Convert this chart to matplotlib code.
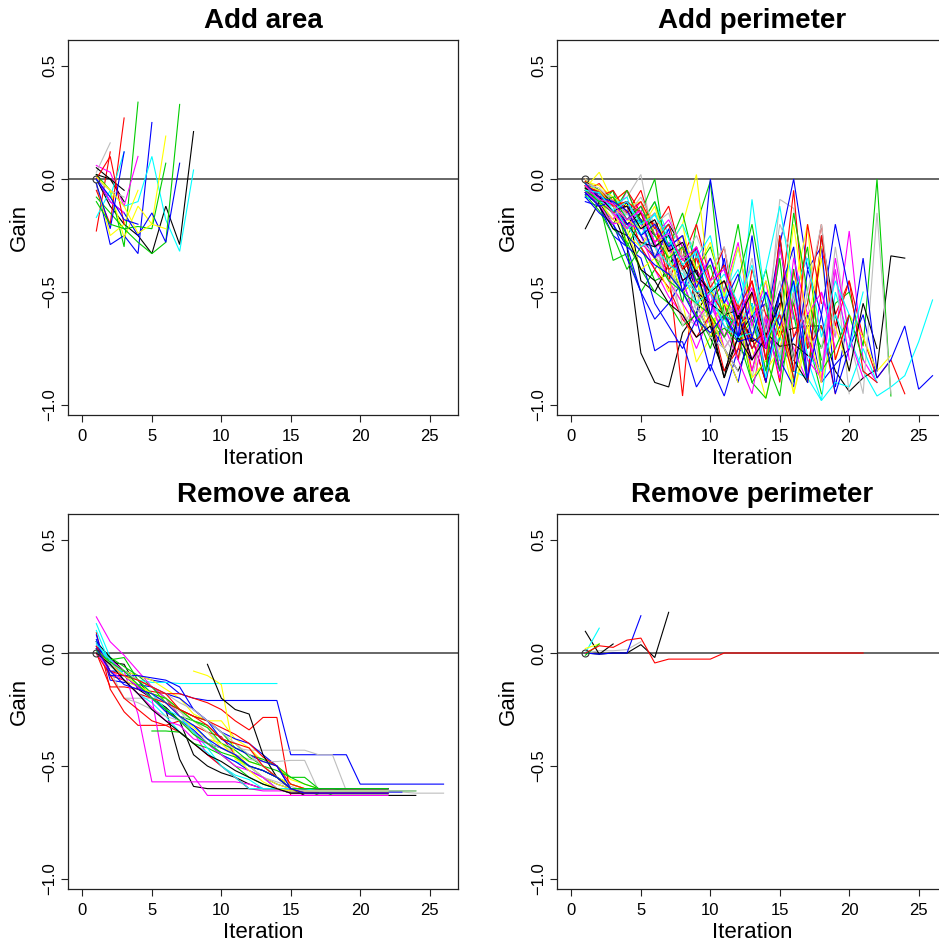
import numpy as np
import matplotlib
matplotlib.use("Agg")
import matplotlib.pyplot as plt

nan = np.nan

# R default palette
palette = ["black", "red", "#00CD00", "blue", "cyan", "magenta", "yellow", "#BEBEBE"]

panel_titles = ["Add area", "Add perimeter", "Remove area", "Remove perimeter"]
x_ticks = [0, 5, 10, 15, 20, 25]
y_ticks = [-1.0, -0.5, 0.0, 0.5]
y_tick_labels = ["\u22121.0", "\u22120.5", "0.0", "0.5"]

# ---- Add area: gain per iteration (iteration 1, 2, ...) ----
add_area_gain = [
    [0.00, -0.12, -0.20, -0.25, -0.33, -0.12, -0.29, 0.21],
    [-0.23, 0.12],
    [0.02, -0.05, -0.30, 0.34],
    [-0.02, -0.29, -0.25, -0.33, 0.25],
    [-0.17, -0.05, -0.12, -0.10, 0.10, -0.18, -0.32, 0.04],
    [0.06, 0.03, -0.12, 0.10],
    [0.00, -0.05, -0.26, -0.12, -0.20, 0.19],
    [0.03, 0.16],
    [0.02, 0.00, -0.10],
    [-0.05, -0.20, 0.27],
    [-0.08, -0.15, -0.22, -0.28, -0.33, -0.28, 0.33],
    [0.00, -0.10, -0.15, -0.25, -0.15, -0.28, 0.07],
    [0.00, -0.08, 0.12],
    [0.01, -0.10, -0.15],
    [-0.02, -0.25, -0.20, -0.05],
    [0.00, -0.05, -0.08],
    [0.05, 0.00, -0.05],
    [0.00, 0.10, -0.20],
    [-0.02, -0.22, 0.12],
    [-0.10, -0.20, -0.22, -0.21, -0.22, 0.07],
    [0.01, -0.05, -0.12, -0.24, -0.20, -0.22],
    [0.00, -0.08, -0.18, -0.20],
]
add_area_colors = ["black", "red", "#00CD00", "blue", "cyan", "magenta", "yellow",
                   "#BEBEBE", "black", "red", "#00CD00", "blue", "cyan", "magenta",
                   "yellow", "#BEBEBE", "black", "red", "blue", "#00CD00",
                   "yellow", "blue"]

# ---- Add perimeter ----
add_perimeter_gain = [
    [-0.02, -0.05, -0.15, -0.30, -0.77, -0.90, -0.92, -0.68, -0.59, -0.49, -0.60, -0.65, -0.70, -0.55, -0.68, -0.66, -0.65, -0.65, -0.85, -0.94, -0.88, -0.84, -0.34, -0.35],
    [0.00, -0.08, -0.12, -0.20, -0.28, -0.35, -0.40, -0.96, -0.32, -0.60, -0.70, -0.55, -0.85, -0.60, -0.90, -0.40, -0.75, -0.30, -0.60, -0.45, -0.70, -0.88, -0.80, -0.95],
    [-0.05, -0.10, -0.36, -0.33, -0.50, -0.40, -0.30, -0.55, -0.20, -0.01, -0.60, -0.80, -0.50, -0.70, -0.35, -0.90, -0.60, -0.75, -0.55, -0.50, -0.74, 0.00, -0.96],
    [-0.08, -0.10, -0.20, -0.35, -0.50, -0.76, -0.72, -0.72, -0.92, -0.82, -0.96, -0.75, -0.80, -0.65, -0.85, -0.70, -0.60, -0.90, -0.82, -0.75, -0.60, -0.88, -0.80, -0.65, -0.93, -0.87],
    [-0.03, -0.07, -0.15, -0.20, -0.25, -0.20, -0.35, -0.45, -0.50, -0.55, -0.62, -0.70, -0.09, -0.55, -0.75, -0.60, -0.80, -0.98, -0.50, -0.70, -0.85, -0.96, -0.92, -0.87, -0.72, -0.535],
    [-0.06, -0.10, -0.18, -0.10, -0.25, -0.40, -0.52, -0.60, -0.75, -0.60, -0.50, -0.70, -0.55, -0.85, -0.60, -0.75, -0.90, -0.50, -0.70, -0.23, -0.80, -0.90],
    [-0.04, 0.03, -0.10, -0.28, -0.15, -0.30, -0.45, -0.55, -0.81, -0.70, -0.50, -0.60, -0.75, -0.97, -0.68, -0.95, -0.70, -0.35, -0.80, -0.60, -0.70, -0.85, -0.78],
    [-0.01, -0.05, -0.12, -0.08, 0.02, -0.30, -0.45, -0.60, -0.65, -0.55, -0.70, -0.80, -0.65, -0.75, -0.09, -0.13, -0.55, -0.85, -0.30, -0.70, -0.95, -0.15, -0.95],
    [-0.22, -0.10, -0.20, -0.10, -0.45, -0.50, -0.38, -0.30, -0.50, -0.60, -0.75, -0.85, -0.70, -0.90, -0.25, -0.80, -0.65],
    [-0.05, -0.02, -0.10, -0.15, -0.05, -0.25, -0.30, -0.40, -0.35, -0.55, -0.45, -0.60, -0.70, -0.90, -0.58, -0.05, -0.75, -0.65, -0.95],
    [-0.03, -0.12, -0.05, -0.25, -0.15, 0.00, -0.40, -0.50, -0.45, -0.65, -0.55, -0.70, -0.90, -0.80, -0.96, -0.50, -0.70, -0.95],
    [-0.10, -0.12, -0.25, -0.30, -0.50, -0.62, -0.55, -0.45, -0.62, 0.00, -0.40, -0.60, -0.75, -0.65, -0.29, 0.00, -0.40, -0.30, -0.92, -0.60],
    [-0.02, -0.06, -0.08, -0.15, -0.20, -0.10, -0.25, -0.35, -0.45, -0.60, -0.50, -0.65, -0.55, -0.80, -0.70, -0.85, -0.88, -0.98, -0.90, -0.92, -0.75, -0.90],
    [-0.04, -0.10, -0.15, -0.20, -0.30, -0.28, -0.45, -0.55, -0.65, -0.50, -0.75, -0.65, -0.85, -0.60, -0.75, -0.55, -0.80, -0.88, -0.35, -0.70, -0.88],
    [0.00, -0.05, -0.10, -0.05, -0.20, -0.15, -0.30, -0.20, -0.50, -0.70, -0.60, -0.55, -0.68, -0.85, -0.75, -0.50, -0.20, -0.90, -0.65, -0.85],
    [-0.06, -0.08, -0.20, -0.15, -0.25, -0.30, -0.40, -0.50, -0.55, -0.45, -0.70, -0.60, -0.88, -0.62, -0.20, -0.35, -0.70, -0.75, -0.40, -0.95],
    [-0.01, -0.05, -0.12, -0.10, -0.18, -0.25, -0.20, -0.30, -0.55, -0.70, -0.85, -0.70, -0.60, -0.75, -0.50, -0.80, -0.90, -0.25, -0.60, -0.85, -0.55, -0.75],
    [-0.02, -0.10, -0.08, -0.22, -0.18, -0.20, -0.45, -0.30, -0.40, -0.50, -0.55, -0.80, -0.40, -0.60, -0.70, -0.55, -0.90, -0.25, -0.65, -0.45, -0.85, -0.90],
    [-0.07, -0.14, -0.25, -0.40, -0.30, -0.45, -0.42, -0.50, -0.60, -0.75, -0.55, -0.60, -0.90, -0.97, -0.70, -0.55, -0.30, -0.85, -0.75, -0.60, -0.80],
    [-0.03, -0.07, -0.15, -0.10, -0.25, -0.35, -0.28, -0.50, -0.40, -0.65, -0.75, -0.90, -0.60, -0.55, -0.80, -0.92, -0.40, -0.60, -0.95, -0.75, -0.35, -0.85],
    [-0.08, -0.10, -0.05, -0.18, -0.15, -0.22, -0.30, -0.25, -0.45, -0.55, -0.50, -0.40, -0.60, -0.50, -0.80, -0.45, -0.78, -0.85, -0.60, -0.75, -0.50],
    [-0.05, -0.12, -0.18, -0.05, -0.20, -0.35, -0.30, -0.25, -0.50, -0.55, -0.65, -0.80, -0.95, -0.62, -0.88, -0.50, -0.70, -0.90, -0.40, -0.80],
    [-0.02, -0.08, -0.15, -0.25, -0.30, -0.20, -0.35, -0.50, -0.45, -0.65, -0.55, -0.60, -0.88, -0.80, -0.50, -0.95, -0.65, -0.90],
    [-0.04, -0.10, -0.10, -0.20, -0.28, -0.33, -0.45, -0.40, -0.58, -0.62, -0.75, -0.65, -0.70, -0.55, -0.78, -0.50, -0.85],
    [-0.05, -0.10, -0.10, -0.20, -0.28, -0.30, -0.25, -0.38, -0.50, -0.55, -0.60, -0.58, -0.72, -0.68, -0.74, -0.73, -0.78],
    [-0.03, -0.10, -0.15, -0.12, -0.30, -0.40, -0.48, -0.62, -0.70, -0.60, -0.85, -0.75, -0.50, -0.80, -0.65, -0.88],
    [-0.06, -0.08, -0.22, -0.28, -0.40, -0.50, -0.55, -0.65, -0.60, -0.70, -0.66, -0.72, -0.62, -0.85, -0.30, -0.60, -0.90],
    [-0.08, -0.15, -0.20, -0.30, -0.35, -0.55, -0.65, -0.75, -0.62, -0.85, -0.60, -0.70, -0.55, -0.90, -0.50],
    [-0.02, -0.05, -0.10, -0.20, -0.30, -0.25, -0.20, -0.40, -0.50, -0.48, -0.60, -0.65, -0.55, -0.88, -0.60],
    [-0.05, -0.12, -0.20, -0.18, -0.10, -0.30, -0.28, -0.45, -0.62, -0.55, -0.70, -0.60, -0.80, -0.65],
    [-0.03, -0.10, -0.18, -0.22, -0.40, -0.35, -0.50, -0.30, -0.45, -0.60, -0.75, -0.90],
    [0.00, -0.06, -0.08, -0.15, -0.20, -0.10, -0.35, -0.65, -0.55, -0.70, -0.75, -0.85],
    [-0.06, -0.12, -0.22, -0.25, -0.40, -0.45, -0.55, -0.60, -0.70, -0.65, -0.88, -0.70, -0.80],
    [-0.04, -0.05, -0.10, -0.05, -0.15, -0.20, -0.40, -0.35, -0.45, -0.50, -0.60, -0.55, -0.75, -0.65],
    [-0.02, -0.10, -0.05, -0.30, -0.18, -0.35, -0.45, -0.50, -0.55, -0.60, -0.70, -0.58],
    [-0.07, -0.06, -0.12, -0.25, -0.32, -0.38, -0.42, -0.50, -0.62, -0.68, -0.60, -0.72, -0.70, -0.75],
    [-0.04, -0.08, -0.12, -0.22, -0.18, -0.30, -0.38, -0.42, -0.55, -0.50, -0.65, -0.70, -0.68],
    [-0.06, -0.10, -0.12, -0.20, -0.22, -0.15, -0.30, -0.45, -0.40, -0.55, -0.52, -0.62],
    [-0.01, -0.03, -0.08, -0.12, -0.10, -0.25, -0.30, -0.20, 0.02, -0.50, -0.55, -0.65, -0.60],
    [-0.05, -0.07, -0.16, -0.12, -0.25, -0.20, -0.32, -0.40, -0.52, -0.45, -0.60, -0.55, -0.65],
    [-0.03, -0.06, -0.10, -0.20, -0.15, -0.30, -0.25, -0.45, -0.40, -0.62, -0.88, -0.60, -0.80, -0.70, -0.50, -0.85],
    [-0.01, -0.08, -0.05, -0.15, -0.10, -0.22, -0.12, -0.35, -0.20, -0.45, -0.30, -0.65, -0.45, -0.80, -0.25, -0.70, -0.55, -0.20, -0.80, -0.60],
    [-0.04, -0.10, -0.15, -0.05, -0.20, -0.10, -0.30, -0.15, -0.40, -0.30, -0.50, -0.20, -0.60, -0.40, -0.70, -0.15, -0.50, -0.80],
    [-0.06, -0.12, -0.10, -0.20, -0.18, -0.35, -0.22, -0.50, -0.30, -0.60, -0.35, -0.70, -0.25, -0.75, -0.50, -0.30, -0.88, -0.60, -0.20, -0.50],
    [-0.02, -0.10, -0.12, -0.08, -0.25, -0.15, -0.30, -0.20, -0.35, -0.25, -0.55, -0.30, -0.60, -0.40, -0.12, -0.50, -0.35, -0.70, -0.45, -0.60],
    [-0.05, -0.08, -0.15, -0.22, -0.12, -0.25, -0.18, -0.30, -0.45, -0.35, -0.50, -0.28, -0.65, -0.45, -0.85, -0.35, -0.60, -0.50, -0.75],
    [-0.03, -0.05, -0.12, -0.18, -0.22, -0.12, -0.35, -0.25, -0.40, -0.28, -0.52, -0.30, -0.60, -0.45, -0.70, -0.20, -0.65, -0.30],
    [-0.02, -0.04, -0.10, -0.16, -0.08, -0.20, -0.15, -0.35, -0.25, -0.40, -0.30, -0.60, -0.35, -0.68, -0.45, -0.80, -0.50, -0.20, -0.70],
    [-0.04, -0.08, -0.14, -0.12, -0.22, -0.18, -0.32, -0.28, -0.42, -0.50, -0.45, -0.62, -0.50, -0.70, -0.55],
    [-0.03, -0.06, -0.12, -0.10, -0.15, -0.28, -0.20, -0.40, -0.30, -0.48, -0.38, -0.58, -0.45, -0.70, -0.60, -0.85, -0.20, -0.55],
    [-0.05, -0.10, -0.08, -0.18, -0.12, -0.25, -0.35, -0.30, -0.45, -0.38, -0.62, -0.45, -0.20, -0.55, -0.85, -0.40],
    [-0.02, -0.08, -0.10, -0.14, -0.25, -0.20, -0.30, -0.25, -0.48, -0.35, -0.55, -0.42, -0.70, -0.50, -0.65, -0.45, -0.90],
    [-0.05, -0.06, -0.14, -0.10, -0.20, -0.16, -0.26, -0.38, -0.32, -0.50, -0.42, -0.55, -0.38, -0.72, -0.58],
    [-0.03, -0.09, -0.11, -0.18, -0.14, -0.28, -0.24, -0.36, -0.30, -0.45, -0.40, -0.60, -0.48, -0.75, -0.30, -0.62],
]

# ---- Remove area ----
remove_area_gain = [
    [0.00, -0.04, -0.05, -0.16, -0.20, -0.24, -0.30, -0.45, -0.50, -0.53, -0.55, -0.58, -0.60, -0.60, -0.62, -0.62, -0.62, -0.62, -0.62, -0.62, -0.62, -0.62],
    [0.09, -0.16, -0.26, -0.32, -0.32, -0.32, -0.30, -0.32, -0.35, -0.37, -0.45, -0.50, -0.55, -0.60, -0.61, -0.61, -0.61, -0.61, -0.61, -0.61, -0.61, -0.61],
    [0.02, -0.02, -0.06, -0.10, -0.15, -0.20, -0.28, -0.30, -0.32, -0.38, -0.40, -0.46, -0.50, -0.55, -0.58, -0.60, -0.63, -0.63, -0.63, -0.63, -0.63, -0.63],
    [0.05, -0.08, -0.08, -0.10, -0.12, -0.13, -0.18, -0.20, -0.21, -0.21, -0.21, -0.21, -0.21, -0.21, -0.45, -0.45, -0.45, -0.45, -0.45, -0.58, -0.58, -0.58, -0.58, -0.58, -0.58, -0.58],
    [0.13, -0.02, -0.10, -0.12, -0.13, -0.13, -0.135, -0.135, -0.135, -0.135, -0.135, -0.135, -0.135, -0.135],
    [0.16, 0.05, -0.01, -0.08, -0.15, -0.20, -0.28, -0.35, -0.45, -0.50, -0.55, -0.60, -0.61, -0.61, -0.61, -0.61, -0.61, -0.61, -0.61, -0.61, -0.61, -0.61],
    [0.00, -0.05, -0.08, -0.10, -0.12, -0.16, -0.20, -0.27, -0.30, -0.30, -0.38, -0.42, -0.48, -0.50, -0.56, -0.58, -0.60, -0.60, -0.60, -0.60, -0.60, -0.60],
    [0.03, -0.10, -0.20, -0.20, -0.20, -0.20, -0.25, -0.35, -0.38, -0.40, -0.42, -0.43, -0.43, -0.43, -0.43, -0.43, -0.45, -0.45, -0.61, -0.615, -0.615, -0.615, -0.615, -0.62, -0.62, -0.62],
    [0.05, -0.02, -0.08, -0.12, -0.20, -0.25, -0.47, -0.59, -0.60, -0.60, -0.60, -0.60, -0.60, -0.60, -0.60, -0.60, -0.60, -0.60, -0.60, -0.60, -0.60, -0.60],
    [0.00, -0.15, -0.15, -0.16, -0.17, -0.18, -0.18, -0.20, -0.22, -0.25, -0.30, -0.34, -0.285, -0.285, -0.63, -0.63, -0.63, -0.63, -0.63, -0.63, -0.63, -0.63],
    [0.00, -0.05, -0.08, -0.12, -0.15, -0.22, -0.25, -0.28, -0.30, -0.35, -0.42, -0.45, -0.47, -0.50, -0.55, -0.58, -0.60, -0.63, -0.63, -0.63, -0.63, -0.63],
    [0.08, -0.12, -0.13, -0.14, -0.15, -0.18, -0.20, -0.25, -0.30, -0.35, -0.38, -0.40, -0.45, -0.50, -0.60, -0.60, -0.60, -0.60, -0.60, -0.60, -0.60, -0.60],
    [0.10, -0.05, -0.08, -0.12, -0.18, -0.25, -0.30, -0.32, -0.38, -0.45, -0.48, -0.50, -0.55, -0.60, -0.61, -0.61, -0.61, -0.61, -0.61, -0.61, -0.61, -0.61],
    [0.02, -0.03, -0.08, -0.27, -0.57, -0.57, -0.57, -0.57, -0.57, -0.57, -0.57, -0.58, -0.60, -0.60, -0.60, -0.60, -0.60, -0.60, -0.60, -0.60, -0.60, -0.60],
    [0.00, -0.08, -0.12, -0.15, -0.18, -0.20, -0.25, -0.30, -0.35, -0.42, -0.45, -0.48, -0.50, -0.55, -0.58, -0.60, -0.60, -0.60, -0.60, -0.60, -0.60, -0.60],
    [0.00, -0.06, -0.10, -0.15, -0.20, -0.22, -0.26, -0.30, -0.35, -0.40, -0.45, -0.47, -0.48, -0.48, -0.475, -0.475, -0.61, -0.61, -0.61, -0.61, -0.61, -0.61],
    [0.00, -0.05, -0.10, -0.15, -0.20, -0.25, -0.30, -0.35, -0.40, -0.42, -0.45, -0.50, -0.52, -0.55, -0.60, -0.63, -0.63, -0.63, -0.63, -0.63, -0.63, -0.63, -0.63, -0.63],
    [0.05, -0.10, -0.12, -0.18, -0.20, -0.22, -0.25, -0.28, -0.30, -0.33, -0.36, -0.40, -0.46, -0.50, -0.58, -0.60, -0.60, -0.60, -0.60, -0.60, -0.60, -0.60],
    [0.00, -0.03, -0.02, -0.12, -0.18, -0.20, -0.25, -0.30, -0.33, -0.40, -0.43, -0.48, -0.50, -0.52, -0.55, -0.55, -0.60, -0.60, -0.61, -0.61, -0.61, -0.61, -0.61, -0.61],
    [0.03, -0.05, -0.10, -0.15, -0.20, -0.26, -0.30, -0.34, -0.40, -0.45, -0.48, -0.52, -0.55, -0.58, -0.60, -0.615, -0.615, -0.615, -0.615, -0.615, -0.615, -0.615, -0.615],
    [0.05, -0.05, -0.12, -0.18, -0.22, -0.28, -0.35, -0.40, -0.44, -0.50, -0.54, -0.56, -0.60, -0.60, -0.60, -0.60, -0.60, -0.60, -0.60, -0.60, -0.60, -0.60],
    [0.00, -0.05, -0.10, -0.15, -0.20, -0.545, -0.545, -0.545, -0.63, -0.63, -0.63, -0.63, -0.63, -0.63, -0.63, -0.63, -0.63, -0.63, -0.63, -0.63, -0.63, -0.63],
    [nan, nan, nan, nan, nan, nan, nan, -0.08, -0.10, -0.14, -0.47, -0.50, -0.55, -0.58, -0.60, -0.60, -0.60, -0.60, -0.60, -0.60, -0.60, -0.60],
    [0.00, -0.08, -0.20, -0.22, -0.25, -0.28, -0.30, -0.35, -0.40, -0.42, -0.45, -0.50, -0.55, -0.57, -0.59, -0.61, -0.61, -0.61, -0.61, -0.61, -0.61, -0.61],
    [nan, nan, nan, nan, nan, nan, nan, nan, -0.05, -0.20, -0.25, -0.27, -0.45, -0.55, -0.60, -0.60, -0.60, -0.60, -0.60, -0.60, -0.60, -0.60],
    [0.00, -0.10, -0.20, -0.25, -0.30, -0.32, -0.35, -0.40, -0.45, -0.50, -0.55, -0.60, -0.60, -0.60, -0.60, -0.60, -0.60, -0.60, -0.60, -0.60, -0.60, -0.60],
    [nan, nan, nan, nan, -0.345, -0.345, -0.35, -0.40, -0.42, -0.45, -0.50, -0.55, -0.58, -0.60, -0.62, -0.62, -0.62, -0.62, -0.62, -0.62, -0.62, -0.62],
    [0.06, -0.10, -0.10, -0.10, -0.11, -0.12, -0.15, -0.25, -0.30, -0.38, -0.42, -0.45, -0.48, -0.50, -0.60, -0.60, -0.60, -0.60, -0.60, -0.60, -0.60, -0.60],
    [0.04, -0.03, -0.10, -0.14, -0.20, -0.25, -0.28, -0.35, -0.42, -0.50, -0.55, -0.60, -0.60, -0.60, -0.60, -0.60, -0.61, -0.61, -0.61, -0.61, -0.61, -0.61],
    [0.00, -0.08, -0.12, -0.18, -0.24, -0.30, -0.32, -0.38, -0.40, -0.45, -0.50, -0.52, -0.55, -0.60, -0.62, -0.62, -0.62, -0.62, -0.62, -0.62, -0.62, -0.62],
    [0.02, -0.05, -0.10, -0.14, -0.18, -0.22, -0.28, -0.33, -0.38, -0.40, -0.46, -0.52, -0.57, -0.60, -0.61, -0.61, -0.61, -0.61, -0.61, -0.61, -0.61, -0.61],
    [0.00, -0.05, -0.08, -0.12, -0.15, -0.18, -0.22, -0.25, -0.30, -0.35, -0.40, -0.45, -0.50, -0.55, -0.60, -0.61, -0.61, -0.61, -0.61, -0.61, -0.61, -0.61, -0.61, -0.61],
    [0.00, -0.05, -0.12, -0.18, -0.25, -0.30, -0.35, -0.40, -0.45, -0.48, -0.52, -0.55, -0.58, -0.60, -0.62, -0.62, -0.62],
    [0.03, -0.08, -0.10, -0.12, -0.15, -0.18, -0.25, -0.28, -0.32, -0.38, -0.40, -0.42, -0.50, -0.55, -0.60, -0.62, -0.62, -0.62, -0.62, -0.62, -0.62, -0.62],
    [0.01, -0.04, -0.08, -0.14, -0.20, -0.25, -0.30, -0.36, -0.40, -0.44, -0.46, -0.50, -0.52, -0.55, -0.60, -0.60, -0.60, -0.60, -0.60, -0.60, -0.60, -0.60],
    [0.02, -0.08, -0.14, -0.16, -0.18, -0.22, -0.28, -0.32, -0.38, -0.42, -0.45, -0.50, -0.52, -0.55, -0.60, -0.62, -0.62, -0.62, -0.62, -0.62, -0.62, -0.62],
]

# ---- Remove perimeter ----
remove_perimeter_gain = [
    [0.00, 0.01, 0.01, 0.015, 0.05],
    [0.096, -0.005, 0.00, 0.00, 0.037, -0.02, 0.18],
    [0.00, -0.005, 0.04],
    [0.00, -0.005, 0.00, 0.00, 0.165],
    [0.00, 0.11],
    [0.02, 0.04],
    [-0.01, 0.04],
    [0.00, 0.032, 0.025, 0.057, 0.066, -0.044, -0.027, -0.027, -0.027, -0.027, 0.00, 0.00, 0.00, 0.00, 0.00, 0.00, 0.00, 0.00, 0.00, 0.00, 0.00],
]
remove_perimeter_colors = ["#BEBEBE", "black", "black", "blue", "cyan", "yellow", "#00CD00", "red"]

panels = [
    (add_area_gain, add_area_colors),
    (add_perimeter_gain, None),
    (remove_area_gain, None),
    (remove_perimeter_gain, remove_perimeter_colors),
]

plt.rcParams["font.family"] = ["Liberation Sans", "DejaVu Sans"]

W, H = 939, 944
fig = plt.figure(figsize=(W / 100, H / 100), dpi=100)

box_w = 390 / W
box_h = 375 / H
lefts = [68 / W, 557 / W]
bottoms = [1 - 415 / H, 1 - 889 / H]

for k, (title, (series, colors)) in enumerate(zip(panel_titles, panels)):
    row, col = divmod(k, 2)
    ax = fig.add_axes([lefts[col], bottoms[row], box_w, box_h])
    ax.set_xlim(-1.04, 27.04)
    ax.set_ylim(-1.044, 0.615)

    ax.axhline(0, color="#5a5a5a", lw=1.3, zorder=1)
    for i, ys in enumerate(series):
        ys = np.asarray(ys, dtype=float)
        xs = np.arange(1, len(ys) + 1)
        c = colors[i] if colors is not None else palette[i % len(palette)]
        ax.plot(xs, ys, color=c, lw=0.8, zorder=2, solid_joinstyle="miter")
    ax.plot([1], [0], "o", mfc="none", mec="#333333", ms=5, mew=0.8, zorder=3)

    ax.set_xticks(x_ticks)
    ax.set_yticks(y_ticks)
    ax.set_yticklabels(y_tick_labels, rotation=90, va="center")
    ax.tick_params(direction="out", length=5, width=0.8, labelsize=12,
                   color="#222222", pad=5)
    ax.tick_params(axis="y", pad=3)
    for s in ax.spines.values():
        s.set_linewidth(0.9)
        s.set_color("#222222")
    ax.set_xlabel("Iteration", fontsize=16, labelpad=3)
    ax.set_ylabel("Gain", fontsize=16, labelpad=9)
    ax.set_title(title, fontsize=20, fontweight="bold", pad=9)

fig.savefig("out.png", dpi=100)
